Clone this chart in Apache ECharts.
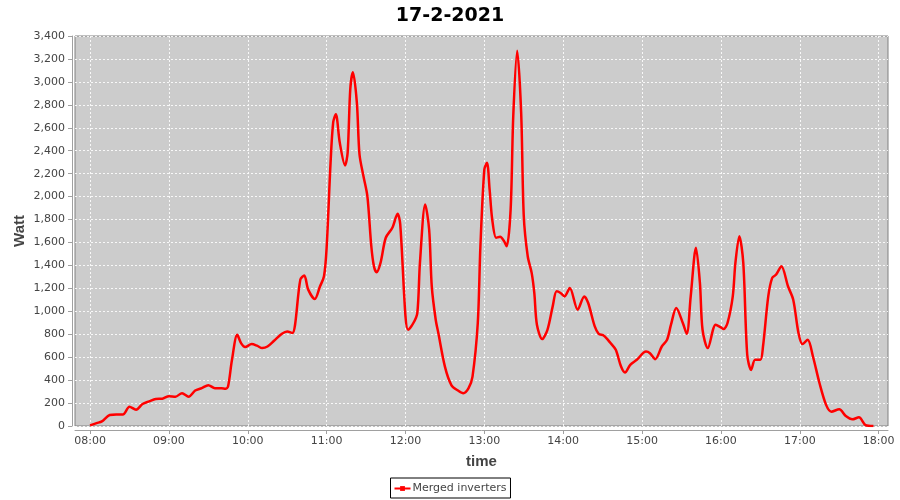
<!DOCTYPE html>
<html>
<head>
<meta charset="utf-8">
<script src="https://cdn.jsdelivr.net/npm/echarts@6/dist/echarts.min.js"></script>
<style>
  html, body { margin: 0; padding: 0; background: #ffffff; }
  #chart { width: 900px; height: 500px; }
</style>
</head>
<body>
<div id="chart"></div>
<script>
// Time of each reading (HH:MM) on 17-2-2021
const times = [
  "08:00","08:05","08:09","08:15","08:20","08:25","08:30","08:35","08:40","08:45",
  "08:50","08:55","09:00","09:05","09:10","09:15","09:20","09:25","09:30","09:35",
  "09:40","09:43","09:45","09:48","09:52","09:55","09:58","10:03","10:07","10:11",
  "10:15","10:20","10:26","10:30","10:34","10:36","10:40","10:43","10:46","10:51",
  "10:55","10:58","11:00","11:03","11:05","11:07","11:10","11:14","11:16","11:18",
  "11:20","11:23","11:25","11:28","11:31","11:34","11:36","11:38","11:41","11:45",
  "11:50","11:54","11:56","12:00","12:02","12:06","12:09","12:11","12:15","12:18",
  "12:20","12:23","12:25","12:30","12:35","12:40","12:44","12:48","12:51","12:55",
  "12:57","13:00","13:02","13:04","13:06","13:09","13:12","13:15","13:17","13:20",
  "13:22","13:25","13:28","13:30","13:33","13:36","13:38","13:40","13:44","13:48",
  "13:52","13:55","13:58","14:01","14:05","14:11","14:16","14:19","14:24","14:27",
  "14:31","14:36","14:40","14:44","14:47","14:51","14:56","15:03","15:06","15:10",
  "15:15","15:19","15:22","15:26","15:31","15:34","15:37","15:41","15:44","15:46",
  "15:50","15:56","16:00","16:02","16:05","16:09","16:11","16:14","16:17","16:20",
  "16:23","16:26","16:30","16:32","16:36","16:39","16:42","16:46","16:51","16:55",
  "16:59","17:02","17:06","17:10","17:15","17:20","17:24","17:30","17:35","17:40",
  "17:45","17:50","17:56"
];
// Merged inverters power (Watt)
const watts = [
  5,25,40,96,100,100,168,142,192,215,
  236,238,260,256,286,256,309,330,356,330,
  330,325,345,577,795,720,688,714,700,679,
  693,743,804,824,810,883,1276,1311,1189,1107,
  1218,1305,1553,2296,2646,2718,2471,2272,2384,2937,
  3085,2820,2369,2179,2004,1567,1392,1340,1422,1641,
  1728,1850,1760,955,839,898,985,1422,1932,1713,
  1218,926,810,518,355,309,286,330,431,898,
  1567,2237,2296,2063,1800,1641,1650,1611,1567,1888,
  2703,3271,2733,1829,1480,1335,1160,883,758,839,
  1043,1174,1160,1130,1203,1014,1130,1072,868,804,
  787,723,664,518,466,533,577,649,635,583,
  693,752,883,1029,898,804,1130,1553,1247,839,
  679,883,859,845,898,1130,1422,1655,1422,621,
  489,577,577,693,1130,1291,1320,1392,1218,1101,
  810,714,752,606,373,184,125,146,87,58,
  76,8,0
];
// Hour tick labels on the time axis
const xTickLabels = ["08:00","09:00","10:00","11:00","12:00","13:00","14:00","15:00","16:00","17:00","18:00"];
const yTicks = [0,200,400,600,800,1000,1200,1400,1600,1800,2000,2200,2400,2600,2800,3000,3200,3400];
const xRange = ["07:48:34", "18:07:06"];
const titleText = "17-2-2021";
const seriesName = "Merged inverters";

// minutes since midnight
function toMin(hms) {
  const p = hms.split(":").map(Number);
  return p[0] * 60 + p[1] + (p[2] || 0) / 60;
}
const data = times.map((t, i) => [toMin(t), watts[i]]);
const xTickValues = xTickLabels.map(toMin);
const pad = n => (n < 10 ? "0" : "") + n;
const fmtTime = v => pad(Math.floor(v / 60)) + ":" + pad(Math.round(v % 60));

const gridLineStyle = { color: "#ffffff", type: [2, 2], width: 1, opacity: 0.85 };

const chart = echarts.init(document.getElementById("chart"), null, { renderer: "canvas" });
chart.setOption({
  animation: false,
  backgroundColor: "#ffffff",
  title: {
    text: titleText,
    left: "center",
    top: 2,
    textStyle: { fontFamily: "DejaVu Sans", fontWeight: "bold", fontSize: 19, color: "#000000" }
  },
  legend: {
    data: [seriesName],
    left: "center",
    bottom: 2,
    padding: [5, 4, 4, 3],
    borderColor: "#000000",
    borderWidth: 1,
    borderRadius: 0,
    itemWidth: 16,
    itemHeight: 6,
    itemGap: 4,
    textStyle: { fontFamily: "DejaVu Sans", fontSize: 11, color: "#444444", padding: [0, 0, 0, -3] }
  },
  grid: {
    left: 75, right: 12, top: 36, bottom: 74,
    show: true,
    backgroundColor: "#cccccc",
    borderColor: "#808080",
    borderWidth: 1
  },
  xAxis: {
    type: "value",
    min: toMin(xRange[0]),
    max: toMin(xRange[1]),
    offset: 4,
    name: "time",
    nameLocation: "middle",
    nameGap: 24,
    nameTextStyle: { fontFamily: "Liberation Sans", fontWeight: "bold", fontSize: 15, color: "#444444" },
    axisLine: { show: true, onZero: false, lineStyle: { color: "#a0a0a0", width: 1 } },
    axisTick: { show: true, inside: false, length: 4, customValues: xTickValues, lineStyle: { color: "#a0a0a0" } },
    axisLabel: {
      margin: 6,
      customValues: xTickValues,
      fontFamily: "DejaVu Sans",
      fontSize: 11,
      color: "#444444",
      formatter: v => fmtTime(v)
    },
    splitLine: { show: false }
  },
  yAxis: {
    type: "value",
    min: yTicks[0],
    max: yTicks[yTicks.length - 1],
    interval: yTicks[1] - yTicks[0],
    offset: 3,
    name: "Watt",
    nameLocation: "middle",
    nameGap: 45,
    nameMoveOverlap: false,
    nameRotate: 90,
    nameTextStyle: { fontFamily: "Liberation Sans", fontWeight: "bold", fontSize: 15, color: "#444444" },
    axisLine: { show: true, lineStyle: { color: "#a0a0a0", width: 1 } },
    axisTick: { show: true, inside: false, length: 4, lineStyle: { color: "#a0a0a0" } },
    axisLabel: {
      margin: 7,
      fontFamily: "DejaVu Sans",
      fontSize: 11,
      color: "#444444",
      formatter: v => v.toLocaleString("en-US")
    },
    splitLine: { show: true, lineStyle: gridLineStyle }
  },
  series: [
    {
      // carries the vertical hourly grid lines, drawn below the data line
      name: "_grid",
      type: "line",
      data: data,
      showSymbol: false,
      silent: true,
      z: 1,
      lineStyle: { opacity: 0 },
      tooltip: { show: false },
      markLine: {
        silent: true,
        z: 1,
        symbol: ["none", "none"],
        label: { show: false },
        lineStyle: gridLineStyle,
        emphasis: { disabled: true },
        data: xTickValues.map(v => ({ xAxis: v }))
      }
    },
    {
      name: seriesName,
      type: "line",
      data: data,
      z: 3,
      smooth: 0.3,
      showSymbol: false,
      symbol: "rect",
      symbolSize: 3,
      lineStyle: { color: "#ff0000", width: 2.5 },
      itemStyle: { color: "#ff0000" },
      clip: true
    }
  ]
});
</script>
</body>
</html>
